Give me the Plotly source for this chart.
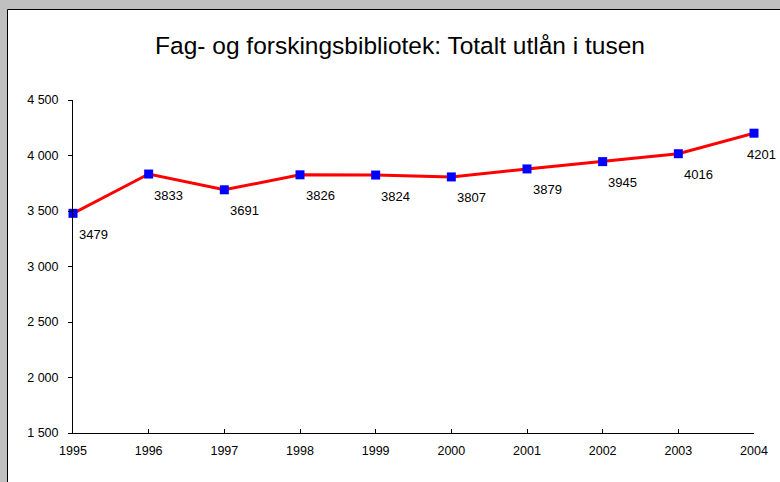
import plotly.graph_objects as go

# Fag- og forskingsbibliotek, totalt utlån (tusen)
years = [1995, 1996, 1997, 1998, 1999, 2000, 2001, 2002, 2003, 2004]
utlan = [3479, 3833, 3691, 3826, 3824, 3807, 3879, 3945, 4016, 4201]
y_ticks = [1500, 2000, 2500, 3000, 3500, 4000, 4500]

W, H = 780, 482
L, R, T, B = 73, 26, 100, 49
pw, ph = W - L - R, H - T - B
FONT = "Arial, Liberation Sans, sans-serif"


def px_x(p):
    return (p - L) / pw


def px_y(p):
    return (H - B - p) / ph


fig = go.Figure()
fig.add_trace(go.Scatter(
    x=years, y=utlan, mode="lines+markers",
    line=dict(color="#FF0000", width=3),
    marker=dict(symbol="square", size=9, color="#0000FF"),
    hoverinfo="x+y", showlegend=False, cliponaxis=False,
))

# data labels below/right of each point (last one pulled in from the edge)
for i, (yr, v) in enumerate(zip(years, utlan)):
    last = i == len(years) - 1
    fig.add_annotation(
        x=yr, y=v, text=str(v), showarrow=False,
        xanchor="center", yanchor="middle",
        xshift=7 if last else 20, yshift=-21,
        font=dict(family=FONT, size=13, color="#000000"),
    )

# grey frame with white chart area, like the Excel export
fig.add_shape(
    type="rect", xref="paper", yref="paper", layer="below",
    x0=px_x(7.5), x1=px_x(800), y0=px_y(9.5), y1=px_y(500),
    fillcolor="white", line=dict(color="black", width=1),
)

fig.update_layout(
    width=W, height=H,
    margin=dict(l=L, r=R, t=T, b=B, pad=0),
    paper_bgcolor="#C0C0C0", plot_bgcolor="white",
    separators=", ",
    font=dict(family=FONT, size=12.5, color="#000000"),
    title=dict(
        text="Fag- og forskingsbibliotek: Totalt utlån i tusen",
        x=400 / W, xanchor="center", xref="container",
        y=1 - 45 / H, yanchor="middle", yref="container",
        font=dict(size=24.5, color="#000000"),
    ),
    xaxis=dict(
        range=[1995, 2004], tickvals=years, showgrid=False, zeroline=False,
        showline=True, linecolor="black", linewidth=1,
        ticks="inside", ticklen=4, tickcolor="black",
        ticklabelstandoff=6,
    ),
    yaxis=dict(
        range=[1500, 4500], tickvals=y_ticks, tickformat=",d",
        showgrid=False, zeroline=False,
        showline=True, linecolor="black", linewidth=1,
        ticks="outside", ticklen=4, tickcolor="black",
        ticklabelstandoff=7,
    ),
)

fig.write_html(
    "out.html",
    config={"displayModeBar": False},
    post_script="document.body.style.margin='0';document.body.style.overflow='hidden';",
)
